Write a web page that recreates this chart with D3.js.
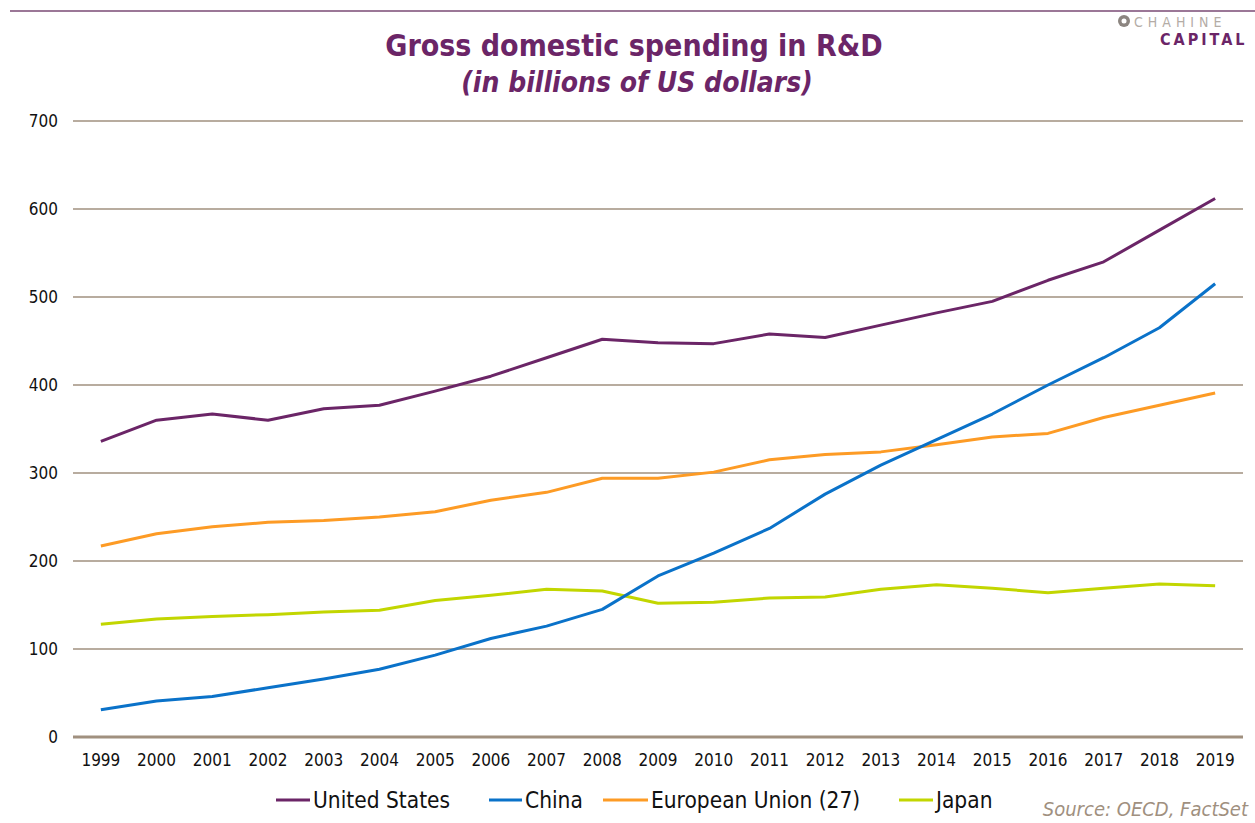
<html>
<head>
    <script src="https://d3js.org/d3.v7.min.js"></script>
    <style>
        body { margin: 0; background: white; }
        text { font-family: "DejaVu Sans Condensed", "DejaVu Sans", sans-serif; }
    </style>
</head>
<body>
    <svg id="RDChart" width="1255" height="823"></svg>
    <script>
        // values (billions of US dollars)
        const years = ["1999","2000","2001","2002","2003","2004","2005","2006","2007","2008","2009",
                       "2010","2011","2012","2013","2014","2015","2016","2017","2018","2019"];
        const unitedStates = [336,360,367,360,373,377,393,410,431,452,448,447,458,454,468,482,495,519,540,576,612];
        const china        = [31,41,46,56,66,77,93,112,126,145,183,209,237,276,309,338,367,400,431,465,515];
        const europeanUnion = [217,231,239,244,246,250,256,269,278,294,294,301,315,321,324,332,341,345,363,377,391];
        const japan        = [128,134,137,139,142,144,155,161,168,166,152,153,158,159,168,173,169,164,169,174,172];
        const yTicks = [0,100,200,300,400,500,600,700];
        const seriesNames = ["United States", "China", "European Union (27)", "Japan"];
        const seriesColors = ["#6b2567", "#0a72c9", "#fd9b25", "#c2d600"];

        const svg = d3.select("#RDChart");
        const purple = "#6b2567";
        const grid = "#a0907f";

        // top rule
        svg.append("line").attr("x1", 10).attr("x2", 1255).attr("y1", 11).attr("y2", 11)
            .style("stroke", "#7a4a74").style("stroke-width", 1.5);

        // logo
        svg.append("circle").attr("cx", 1124).attr("cy", 21).attr("r", 6).style("fill", "#8c8580");
        svg.append("circle").attr("cx", 1124).attr("cy", 21).attr("r", 2.5).style("fill", "white");
        svg.append("text").attr("x", 1134).attr("y", 27).text("CHAHINE")
            .style("font-size", "14px").style("letter-spacing", "5px").style("fill", "#b4aca6");
        svg.append("text").attr("x", 1160).attr("y", 45).text("CAPITAL")
            .style("font-size", "16px").style("font-weight", "bold").style("letter-spacing", "3px").style("fill", purple);

        // titles
        svg.append("text").attr("x", 634).attr("y", 56).attr("text-anchor", "middle")
            .text("Gross domestic spending in R&D")
            .style("font-size", "30px").style("font-weight", "bold").style("fill", purple);
        svg.append("text").attr("x", 637).attr("y", 92).attr("text-anchor", "middle")
            .text("(in billions of US dollars)")
            .style("font-size", "28px").style("font-weight", "bold").style("font-style", "italic").style("fill", purple);

        const x = d3.scaleBand().domain(years).range([73, 1243]);
        const y = d3.scaleLinear().domain([0, 700]).range([737, 121]);

        // gridlines
        svg.append("g").selectAll("line").data(yTicks).join("line")
            .attr("x1", 73).attr("x2", 1243)
            .attr("y1", d => y(d)).attr("y2", d => y(d))
            .style("stroke", grid).style("stroke-width", d => d === 0 ? 3 : 1.3);

        // y axis labels
        const yAxis = svg.append("g").attr("transform", "translate(66,0)")
            .call(d3.axisLeft(y).tickValues(yTicks).tickSize(0).tickPadding(8));
        yAxis.select(".domain").remove();
        yAxis.selectAll("text").style("font-size", "17px").style("fill", "#111")
            .style("font-family", "'DejaVu Sans Condensed', sans-serif");

        // x axis labels
        const xAxis = svg.append("g").attr("transform", "translate(0,748)")
            .call(d3.axisBottom(x).tickSize(0).tickPadding(6));
        xAxis.select(".domain").remove();
        xAxis.selectAll("text").style("font-size", "17px").style("fill", "#111")
            .style("font-family", "'DejaVu Sans Condensed', sans-serif");

        // lines
        const allSeries = [unitedStates, china, europeanUnion, japan];
        const line = d3.line()
            .x((d, i) => x(years[i]) + x.bandwidth() / 2)
            .y(d => y(d));
        // draw order so US ends on top like the original
        [3, 2, 1, 0].forEach(k => {
            svg.append("path").datum(allSeries[k])
                .attr("d", line)
                .style("fill", "none")
                .style("stroke", seriesColors[k])
                .style("stroke-width", 3)
                .style("stroke-linejoin", "round");
        });

        // legend
        const legendX = [276, 489, 603, 899];
        const legendW = [34, 33, 45, 34];
        seriesNames.forEach((name, k) => {
            svg.append("line").attr("x1", legendX[k]).attr("x2", legendX[k] + legendW[k])
                .attr("y1", 800).attr("y2", 800)
                .style("stroke", seriesColors[k]).style("stroke-width", 3);
            svg.append("text").attr("x", legendX[k] + legendW[k] + 3).attr("y", 808)
                .text(name).style("font-size", "22.5px").style("fill", "#111");
        });

        // source
        svg.append("text").attr("x", 1248).attr("y", 816).attr("text-anchor", "end")
            .text("Source: OECD, FactSet")
            .style("font-size", "20px").style("font-style", "italic").style("fill", "#a0907f");
    </script>
</body>
</html>
